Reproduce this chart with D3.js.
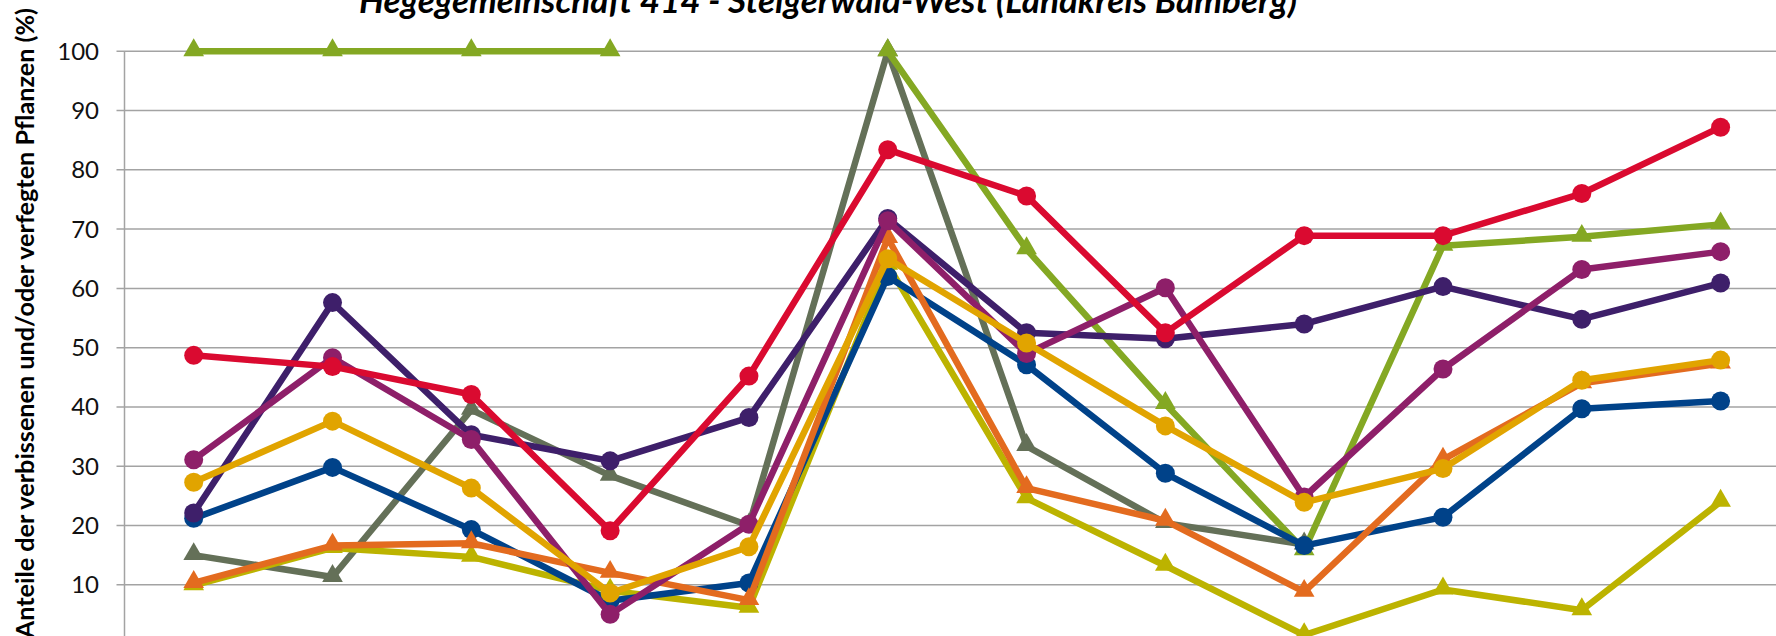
<!DOCTYPE html>
<html lang="de">
<head>
    <meta charset="UTF-8">
    <title>Hegegemeinschaft 414 - Steigerwald-West</title>
    <script src="https://cdn.jsdelivr.net/npm/d3@7/dist/d3.min.js"></script>
    <style>
        html, body { margin: 0; padding: 0; background: #fff; overflow: hidden; }
        text { font-family: Lato, "Open Sans", sans-serif; }
    </style>
</head>
<body>
<svg id="chart" width="1776" height="636"></svg>
<script>
    // categories (survey rounds, labels are cut off in the picture)
    const categories = ['1991','1994','1997','2000','2003','2006','2009','2012','2015','2018','2021','2024'];
    const yTicks = [0,10,20,30,40,50,60,70,80,90,100];

    // series values in %, null = no value
    const seriesGrey    = [15, 11.3, 39.5, 28.4, 20, 100, 33.4, 20.4, 16.8, null, null, null];
    const seriesGreen   = [100, 100, 100, 100, null, 100, 66.6, 40.5, 15.8, 67.2, 68.7, 70.8];
    const seriesOlive   = [9.9, 16.2, 14.7, 9, 6.1, 64, 24.6, 13.2, 1.5, 9.2, 5.7, 24];
    const seriesBlue    = [21.2, 29.8, 19.3, 7.3, 10.3, 62, 47.1, 28.8, 16.6, 21.4, 39.7, 41];
    const seriesOrange  = [10.3, 16.6, 17, 12, 7.4, 68.5, 26.3, 20.8, 8.8, 31.1, 44, 47.3];
    const seriesPurple  = [22.1, 57.6, 35.3, 30.9, 38.2, 71.8, 52.5, 51.5, 54, 60.3, 54.8, 60.9];
    const seriesMagenta = [31.1, 48.3, 34.5, 5, 20.2, 71.4, 49, 60.1, 24.8, 46.4, 63.2, 66.2];
    const seriesGold    = [27.3, 37.6, 26.3, 8.6, 16.4, 65, 50.8, 36.8, 23.9, 29.6, 44.5, 47.9];
    const seriesRed     = [48.7, 46.8, 42.1, 19.1, 45.2, 83.4, 75.6, 52.5, 68.9, 68.9, 76, 87.2];

    // drawing order = order in this list (last on top)
    const series = [
        {values: seriesGrey,    colour: '#647058', marker: 'triangle'},
        {values: seriesGreen,   colour: '#84A823', marker: 'triangle'},
        {values: seriesOlive,   colour: '#BCB300', marker: 'triangle'},
        {values: seriesBlue,    colour: '#004289', marker: 'circle'},
        {values: seriesOrange,  colour: '#E36B1F', marker: 'triangle'},
        {values: seriesPurple,  colour: '#3E1F6A', marker: 'circle'},
        {values: seriesMagenta, colour: '#8E1F69', marker: 'circle'},
        {values: seriesGold,    colour: '#E1A400', marker: 'circle'},
        {values: seriesRed,     colour: '#DA0A30', marker: 'circle'}
    ];

    let svg = d3.select('svg#chart');
    let axisX = 124.5;

    let xScale = d3.scalePoint().domain(categories).range([193.7, 1720.6]);
    let yScale = d3.scaleLinear().domain([0, 100]).range([644, 51.3]);

    // gridlines
    svg.append('g')
        .selectAll('line')
        .data(yTicks)
        .enter()
        .append('line')
        .attr('x1', axisX - 8)
        .attr('x2', 1776)
        .attr('y1', function(d){return yScale(d);})
        .attr('y2', function(d){return yScale(d);})
        .attr('stroke', '#A3A3A3')
        .attr('stroke-width', 1.5);

    // y axis line
    svg.append('line')
        .attr('x1', axisX).attr('x2', axisX)
        .attr('y1', yScale(100)).attr('y2', yScale(0))
        .attr('stroke', '#A3A3A3')
        .attr('stroke-width', 1.5);

    // tick labels
    svg.append('g')
        .selectAll('text')
        .data(yTicks)
        .enter()
        .append('text')
        .attr('x', 99)
        .attr('y', function(d){return yScale(d) + 8.5;})
        .attr('text-anchor', 'end')
        .style('font-size', '24px')
        .style('fill', '#111')
        .text(function(d){return d;});

    // lines and markers
    let line = d3.line()
        .defined(function(d){return d != null;})
        .x(function(d, i){return xScale(categories[i]);})
        .y(function(d){return yScale(d);});

    let triangle = d3.symbol().type(d3.symbolTriangle).size(185);

    series.forEach(function(s){
        let g = svg.append('g');
        g.append('path')
            .attr('d', line(s.values))
            .attr('fill', 'none')
            .attr('stroke', s.colour)
            .attr('stroke-width', 6.5)
            .attr('stroke-linejoin', 'round');

        let pts = s.values.map(function(v, i){return {v: v, c: categories[i]};})
            .filter(function(d){return d.v != null;});

        if (s.marker === 'circle') {
            g.selectAll('circle')
                .data(pts)
                .enter()
                .append('circle')
                .attr('cx', function(d){return xScale(d.c);})
                .attr('cy', function(d){return yScale(d.v);})
                .attr('r', 9.5)
                .attr('fill', s.colour);
        } else {
            g.selectAll('path.m')
                .data(pts)
                .enter()
                .append('path')
                .attr('class', 'm')
                .attr('d', triangle)
                .attr('transform', function(d){return 'translate(' + xScale(d.c) + ',' + (yScale(d.v) - 1) + ')';})
                .attr('fill', s.colour);
        }
    });

    // title (top is cut off in the original)
    svg.append('text')
        .attr('x', 828)
        .attr('y', 13)
        .attr('text-anchor', 'middle')
        .style('font-size', '35px')
        .style('font-weight', 'bold')
        .style('font-style', 'italic')
        .style('fill', '#000')
        .text('Hegegemeinschaft 414 - Steigerwald-West (Landkreis Bamberg)');

    // y axis title
    svg.append('text')
        .attr('transform', 'translate(34,8) rotate(-90)')
        .attr('text-anchor', 'end')
        .style('font-size', '25.2px')
        .style('font-weight', 'bold')
        .style('fill', '#000')
        .text('Anteile der verbissenen und/oder verfegten Pflanzen (%)');
</script>
</body>
</html>
